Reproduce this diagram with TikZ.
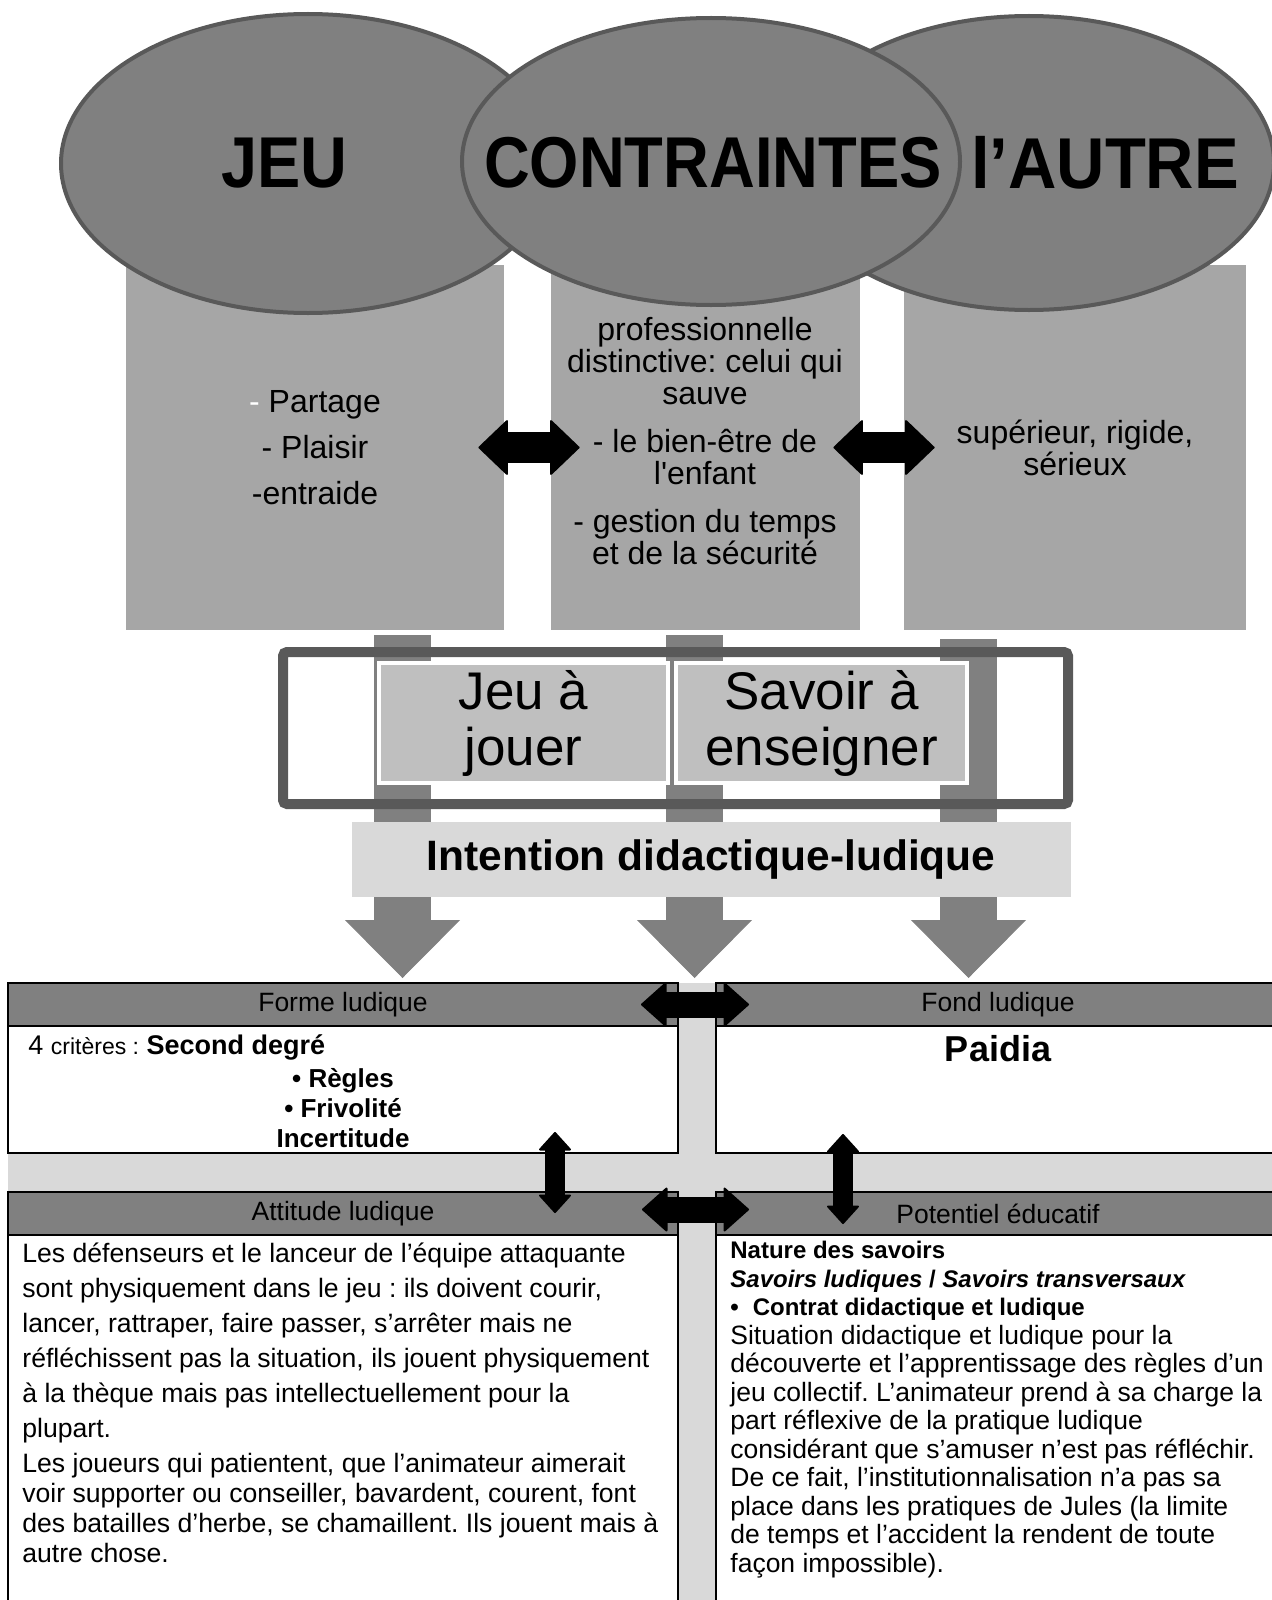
\documentclass[tikz,border=0pt]{standalone}
\usepackage{fontspec}
\setmainfont{Liberation Sans}
\usepackage{graphicx}
\usetikzlibrary{positioning,arrows.meta,shapes.geometric}
\frenchspacing

\definecolor{ovalgray}{gray}{0.5}
\definecolor{ovalline}{gray}{0.35}
\definecolor{boxgray}{gray}{0.65}
\definecolor{innergray}{gray}{0.75}
\definecolor{bandgray}{gray}{0.85}

\newcommand{\fs}[2]{\fontsize{#1}{#2}\selectfont}

\tikzset{
  oval/.style={ellipse,draw=ovalline,fill=ovalgray,line width=2pt,inner sep=0pt},
  ovaltext/.style={font=\fs{36pt}{36pt}\bfseries,inner sep=0pt},
  colbox/.style={fill=boxgray,inner sep=0pt,minimum height=182.5pt,align=center,font=\fs{16pt}{16pt}},
  innerbox/.style={fill=innergray,draw=white,line width=2.25pt,inner sep=0pt,minimum height=60pt,align=center,font=\fs{26.5pt}{28pt}},
  panelhead/.style={draw=black,fill=ovalgray,line width=1.25pt,inner sep=0pt,outer sep=0pt,minimum height=21.5pt,font=\fs{13.25pt}{13.25pt}},
  panelbody/.style={draw=black,fill=white,line width=1.25pt,inner sep=0pt,outer sep=0pt},
  toptip/.tip={Triangle[length=15pt,width=28.5pt,line width=1pt,round]},
  midtip/.tip={Triangle[length=13pt,width=23pt,line width=1pt,round]},
  vtip/.tip={Triangle[length=9.5pt,width=17pt,line width=1pt,round]},
  bigtip/.tip={Triangle[length=29pt,width=57.5pt,line width=0.5pt]},
  toparrow/.style={line width=15.5pt,arrows=toptip-toptip},
  midarrow/.style={line width=13pt,arrows=midtip-midtip},
  varrow/.style={line width=10pt,arrows=vtip-vtip},
  bigarrow/.style={draw=ovalgray,line width=28.5pt,arrows=-bigtip}
}

\begin{document}
\begin{tikzpicture}[x=0.5pt,y=-0.5pt]
\useasboundingbox (0,0) rectangle (1271,1600);

% columns under the ovals
\node[colbox,minimum width=189pt] (jeubox) at (315,447.5) {\textcolor{white}{-} Partage\\[7pt]- Plaisir\\[7pt]-entraide};
\node[colbox,minimum width=154.5pt] (contbox) at (705.5,447.5) {};
\node[colbox,minimum width=171pt] (autrebox) at (1075,447.5) {supérieur, rigide,\\sérieux};
\node[align=center,inner sep=0pt,font=\fs{16pt}{16pt}] (conttext) at (705,441) {professionnelle\\distinctive: celui qui\\sauve\\[8pt]- le bien-être de\\l\textquotesingle enfant\\[8pt]- gestion du temps\\et de la sécurité};

% ovals
\node[oval,minimum width=247pt,minimum height=149.5pt] (jeuell) at (308,163.5) {};
\node[oval,minimum width=245pt,minimum height=147pt] (autreell) at (1029,163) {};
\node[oval,minimum width=249pt,minimum height=143.5pt] (contell) at (711,161.5) {};
\node[ovaltext] (jeulab) at (284.5,163.5) {\scalebox{.9}[1]{JEU}};
\node[ovaltext] (contlab) at (713,163) {\scalebox{.88}[1]{CONTRAINTES}};
\node[ovaltext] (autrelab) at (1105,163) {\scalebox{.93}[1]{l’AUTRE}};

\draw[toparrow,shorten <=-13pt,shorten >=-14.5pt] (jeubox) -- (contbox);
\draw[toparrow,shorten <=-13.5pt,shorten >=-15.5pt] (contbox) -- (autrebox);

% matrix background
\fill[bandgray] (678,983) rectangle (716,1610);
\fill[bandgray] (8,1153) rectangle (1280,1192);

\node[panelhead,minimum width=335pt] (formehead) at (343,1004.5) {Forme ludique};
\node[panelbody,minimum width=335pt,minimum height=63.5pt,below=0pt of formehead] (formebody) {};
\node[panelhead,minimum width=282pt] (fondhead) at (998,1004.5) {Fond ludique};
\node[panelbody,minimum width=282pt,minimum height=63.5pt,below=0pt of fondhead] (fondbody) {};
\node[panelhead,minimum width=335pt] (attithead) at (343,1213.5) {Attitude ludique};
\node[panelbody,minimum width=335pt,minimum height=187.5pt,below=0pt of attithead] (attitbody) {};
\node[panelhead,minimum width=282pt] (pothead) at (998,1213.5) {Potentiel éducatif};
\node[panelbody,minimum width=282pt,minimum height=187.5pt,below=0pt of pothead] (potbody) {};

% arrows down
\coordinate (p1) at (402.5,635);
\coordinate (p2) at (694.5,635);
\coordinate (p3) at (968.5,639);
\draw[bigarrow,shorten >=2.5pt] (p1) -- (p1 |- formehead.north);
\draw[bigarrow,shorten >=2.5pt] (p2) -- (p2 |- formehead.north);
\draw[bigarrow,shorten >=2.5pt] (p3) -- (p3 |- fondhead.north);

\node[draw=ovalline,line width=5pt,rounded corners=2pt,minimum width=392.5pt,minimum height=76pt,inner sep=0pt] (tframe) at (675.5,728) {};
\node[innerbox,minimum width=144.5pt] (jouerbox) at (523.5,723) {Jeu à\\jouer};
\node[innerbox,minimum width=145.5pt] (ensbox) at (821.5,723) {Savoir à\\enseigner};
\node[fill=bandgray,minimum width=359.5pt,minimum height=37.5pt,inner sep=0pt,font=\fs{21.25pt}{21.25pt}\bfseries] (intent) at (711,859.4) {Intention didactique-ludique};

% panel texts
\node[anchor=west,inner sep=0pt] (crit) at (28,1047) {\fs{13.5pt}{15pt}4 {\fs{11.5pt}{15pt}critères :} \textbf{Second degré}};
\node[align=center,inner sep=0pt,font=\fs{13pt}{15pt}\bfseries] (critlist) at (343,1108) {• Règles\\• Frivolité\\Incertitude};
\node[inner sep=0pt,font=\fs{18pt}{18pt}\bfseries] (paidia) at (998,1049) {Paidia};
\node[anchor=north west,align=left,inner sep=0pt,font=\fs{13.3pt}{15pt}] (attittext) at (22,1242) {Les défenseurs et le lanceur de l’équipe attaquante\\[2.5pt]
sont physiquement dans le jeu : ils doivent courir,\\[2.5pt]
lancer, rattraper, faire passer, s’arrêter mais ne\\[2.5pt]
réfléchissent pas la situation, ils jouent physiquement\\[2.5pt]
à la thèque mais pas intellectuellement pour la\\[2.5pt]
plupart.\\[2.5pt]
Les joueurs qui patientent, que l’animateur aimerait\\
voir supporter ou conseiller, bavardent, courent, font\\
des batailles d’herbe, se chamaillent. Ils jouent mais à\\
autre chose.};
\node[anchor=north west,align=left,inner sep=0pt,font=\fs{13.25pt}{14.25pt}] (pottext) at (730,1241) {{\fs{12pt}{14.25pt}\bfseries Nature des savoirs}\\
{\fs{12pt}{14.25pt}\bfseries{\itshape Savoirs ludiques} / {\itshape Savoirs transversaux}}\\
{\fs{12pt}{14.25pt}\bfseries •\hspace{7pt}Contrat didactique et ludique}\\
Situation didactique et ludique pour la\\
découverte et l’apprentissage des règles d’un\\
jeu collectif. L’animateur prend à sa charge la\\
part réflexive de la pratique ludique\\
considérant que s’amuser n’est pas réfléchir.\\
De ce fait, l’institutionnalisation n’a pas sa\\
place dans les pratiques de Jules (la limite\\
de temps et l’accident la rendent de toute\\
façon impossible).};

% links between the four panels
\draw[midarrow,shorten <=-18.5pt,shorten >=-16.5pt] (formehead) -- (fondhead);
\draw[midarrow,shorten <=-18pt,shorten >=-16.5pt] ([yshift=2pt]attithead.east) -- ([yshift=2pt]pothead.west);
\coordinate (lv) at (555,0);
\coordinate (rv) at (843,0);
\draw[varrow,shorten <=-10.5pt,shorten >=-10.5pt] (formebody.south -| lv) -- (attithead.north -| lv);
\draw[varrow,shorten <=-9.5pt,shorten >=-16pt] (fondbody.south -| rv) -- (pothead.north -| rv);
\end{tikzpicture}
\end{document}
